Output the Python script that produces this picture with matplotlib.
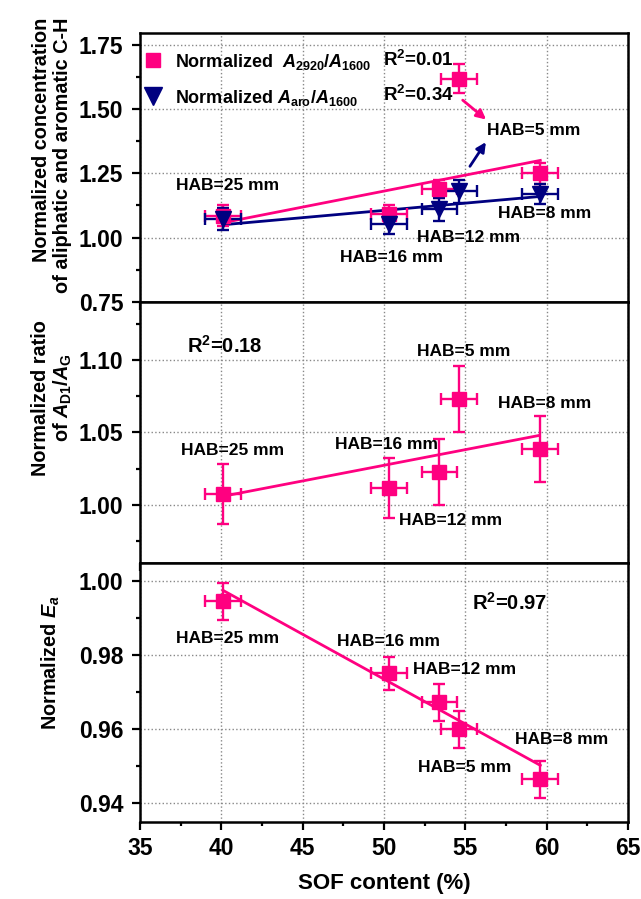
import matplotlib
matplotlib.use('Agg')
import matplotlib.pyplot as plt
from matplotlib import font_manager
from matplotlib.lines import Line2D
from matplotlib.ticker import MultipleLocator, FormatStrFormatter

plt.rcParams['font.family'] = ['Liberation Sans', 'DejaVu Sans']
plt.rcParams['font.weight'] = 'bold'
plt.rcParams['axes.labelweight'] = 'bold'
plt.rcParams['mathtext.fontset'] = 'custom'
plt.rcParams['mathtext.rm'] = 'Liberation Sans:bold'
plt.rcParams['mathtext.it'] = 'Liberation Sans:bold:italic'
plt.rcParams['mathtext.bf'] = 'Liberation Sans:bold'

# y labels are in a condensed face in the original
font_names = {f.name for f in font_manager.fontManager.ttflist}
if 'Liberation Sans Narrow' in font_names:
    YL_FAMILY, YL_SIZE = ['Liberation Sans Narrow', 'Liberation Sans'], 17
else:
    YL_FAMILY, YL_SIZE = ['Liberation Sans'], 14.3

PINK = '#FF0080'
NAVY = '#000080'

# HAB order: 25, 16, 12, 5, 8 mm
hab = ['HAB=25 mm', 'HAB=16 mm', 'HAB=12 mm', 'HAB=5 mm', 'HAB=8 mm']
sof = [40.1, 50.3, 53.4, 54.6, 59.6]
sof_err = [1.1, 1.1, 1.1, 1.1, 1.1]

# panel 1
a2920 = [1.085, 1.093, 1.19, 1.618, 1.25]
a2920_err = [0.04, 0.035, 0.035, 0.055, 0.04]
aaro = [1.074, 1.054, 1.11, 1.18, 1.17]
aaro_err = [0.043, 0.04, 0.044, 0.044, 0.04]
fit1_x = [40.1, 59.6]
fit1_pink = [1.058, 1.30]
fit1_navy = [1.05, 1.16]

# panel 2
ad1 = [1.0076, 1.0117, 1.0228, 1.073, 1.0386]
ad1_err = [0.021, 0.021, 0.023, 0.023, 0.023]
fit2_x = [40.1, 59.55]
fit2_y = [1.006, 1.048]

# panel 3
ea = [0.9946, 0.9752, 0.9674, 0.960, 0.9465]
ea_err = [0.0049, 0.0045, 0.005, 0.005, 0.005]
fit3_x = [40.1, 59.6]
fit3_y = [0.9976, 0.9503]

fig = plt.figure(figsize=(6.41, 8.99), dpi=100)
gs = fig.add_gridspec(3, 1, left=0.2184, right=0.98, top=0.9633, bottom=0.0857,
                      hspace=0, height_ratios=[269, 261, 259])
axes = [fig.add_subplot(gs[i]) for i in range(3)]

eb = dict(fmt='none', elinewidth=1.7, capsize=4.5, capthick=1.7, zorder=3)
hab_kw = dict(fontsize=12.5, va='center', fontweight='bold')

# ---- top panel
ax = axes[0]
ax.plot(fit1_x, fit1_pink, color=PINK, lw=2, zorder=2)
ax.plot(fit1_x, fit1_navy, color=NAVY, lw=2, zorder=2)
ax.errorbar(sof, a2920, xerr=sof_err, yerr=a2920_err, ecolor=PINK, **eb)
ax.plot(sof, a2920, 's', color=PINK, ms=10.5, zorder=4)
ax.errorbar(sof, aaro, xerr=sof_err, yerr=aaro_err, ecolor=NAVY, **eb)
ax.plot(sof, aaro, 'v', color=NAVY, ms=11.5, zorder=5)
ax.set_ylim(0.75, 1.795)
ax.yaxis.set_major_locator(MultipleLocator(0.25))
ax.yaxis.set_minor_locator(MultipleLocator(0.125))
handles = [Line2D([], [], ls='none', marker='s', color=PINK, ms=10.5),
           Line2D([], [], ls='none', marker='v', color=NAVY, ms=13)]
labels = [r'Normalized  $A_{2920}/A_{1600}$', r'Normalized $A_{\mathrm{aro}}/A_{1600}$']
ax.legend(handles, labels, loc='upper left', bbox_to_anchor=(-0.0136, 0.958), frameon=False,
          prop=dict(size=13, weight='bold'), handletextpad=0.5, labelspacing=0.9,
          borderaxespad=0, handlelength=1.4)
ax.text(0.497, 0.90, r'R$^2$=0.01', transform=ax.transAxes, fontsize=13.5, va='center',
        fontweight='bold')
ax.text(0.497, 0.77, r'R$^2$=0.34', transform=ax.transAxes, fontsize=13.5, va='center',
        fontweight='bold')
ax.text(37.2, 1.202, hab[0], **hab_kw)
ax.text(47.27, 0.922, hab[1], **hab_kw)
ax.text(52.05, 1.0, hab[2], **hab_kw)
ax.text(57.0, 1.093, hab[4], **hab_kw)
ax.text(56.35, 1.416, hab[3], **hab_kw)
ax.annotate('', xy=(56.4, 1.452), xytext=(54.7, 1.541),
            arrowprops=dict(arrowstyle='-|>', color=PINK, lw=2, mutation_scale=14))
ax.annotate('', xy=(56.35, 1.38), xytext=(55.18, 1.268),
            arrowprops=dict(arrowstyle='-|>', color=NAVY, lw=2, mutation_scale=14))
ax.set_ylabel('Normalized concentration\nof aliphatic and aromatic C-H',
              family=YL_FAMILY, fontsize=YL_SIZE, fontweight='bold',
              multialignment='right', linespacing=1.1)
ax.yaxis.set_label_coords(-0.14, 0.546)

# ---- middle panel
ax = axes[1]
ax.plot(fit2_x, fit2_y, color=PINK, lw=2, zorder=2)
ax.errorbar(sof, ad1, xerr=sof_err, yerr=ad1_err, ecolor=PINK, **eb)
ax.plot(sof, ad1, 's', color=PINK, ms=10.5, zorder=4)
ax.set_ylim(0.96, 1.14)
ax.yaxis.set_major_locator(MultipleLocator(0.05))
ax.yaxis.set_minor_locator(MultipleLocator(0.025))
ax.text(37.9, 1.1097, r'R$^2$=0.18', fontsize=14.5, va='center', fontweight='bold')
ax.text(37.5, 1.0373, hab[0], **hab_kw)
ax.text(46.96, 1.0414, hab[1], **hab_kw)
ax.text(50.9, 0.989, hab[2], **hab_kw)
ax.text(52.05, 1.1056, hab[3], **hab_kw)
ax.text(57.0, 1.0697, hab[4], **hab_kw)
ax.set_ylabel('Normalized ratio\n' + r'of $A_{\mathrm{D1}}/A_{\mathrm{G}}$',
              family=YL_FAMILY, fontsize=YL_SIZE, fontweight='bold', linespacing=1.1)
ax.yaxis.set_label_coords(-0.135, 0.632)

# ---- bottom panel
ax = axes[2]
ax.plot(fit3_x, fit3_y, color=PINK, lw=2, zorder=2)
ax.errorbar(sof, ea, xerr=sof_err, yerr=ea_err, ecolor=PINK, **eb)
ax.plot(sof, ea, 's', color=PINK, ms=10.5, zorder=4)
ax.set_ylim(0.935, 1.005)
ax.yaxis.set_major_locator(MultipleLocator(0.02))
ax.yaxis.set_minor_locator(MultipleLocator(0.01))
ax.text(55.43, 0.9941, r'R$^2$=0.97', fontsize=14.5, va='center', fontweight='bold')
ax.text(37.2, 0.9847, hab[0], **hab_kw)
ax.text(47.1, 0.9838, hab[1], **hab_kw)
ax.text(51.8, 0.9763, hab[2], **hab_kw)
ax.text(52.1, 0.9497, hab[3], **hab_kw)
ax.text(58.07, 0.9572, hab[4], **hab_kw)
ax.set_ylabel(r'Normalized $E_a$', family=YL_FAMILY, fontsize=YL_SIZE, fontweight='bold')
ax.yaxis.set_label_coords(-0.16, 0.618)
ax.set_xlabel('SOF content (%)', fontsize=16, fontweight='bold', labelpad=9)

for i, ax in enumerate(axes):
    ax.set_xlim(35, 65)
    ax.xaxis.set_major_locator(MultipleLocator(5))
    ax.xaxis.set_minor_locator(MultipleLocator(2.5))
    ax.yaxis.set_major_formatter(FormatStrFormatter('%.2f'))
    ax.grid(True, which='major', color='#888888', ls=':', lw=1)
    ax.tick_params(which='both', direction='out', width=1.6, labelsize=16.5,
                   top=False, right=False)
    ax.tick_params(which='major', length=6)
    ax.tick_params(which='minor', length=3)
    ax.tick_params(axis='x', pad=5)
    ax.tick_params(axis='y', pad=6)
    if i < 2:
        ax.tick_params(axis='x', labelbottom=False)
    for lab in ax.get_xticklabels() + ax.get_yticklabels():
        lab.set_fontweight('bold')
    for sp in ax.spines.values():
        sp.set_linewidth(1.8)

fig.savefig('out.png', dpi=100)
